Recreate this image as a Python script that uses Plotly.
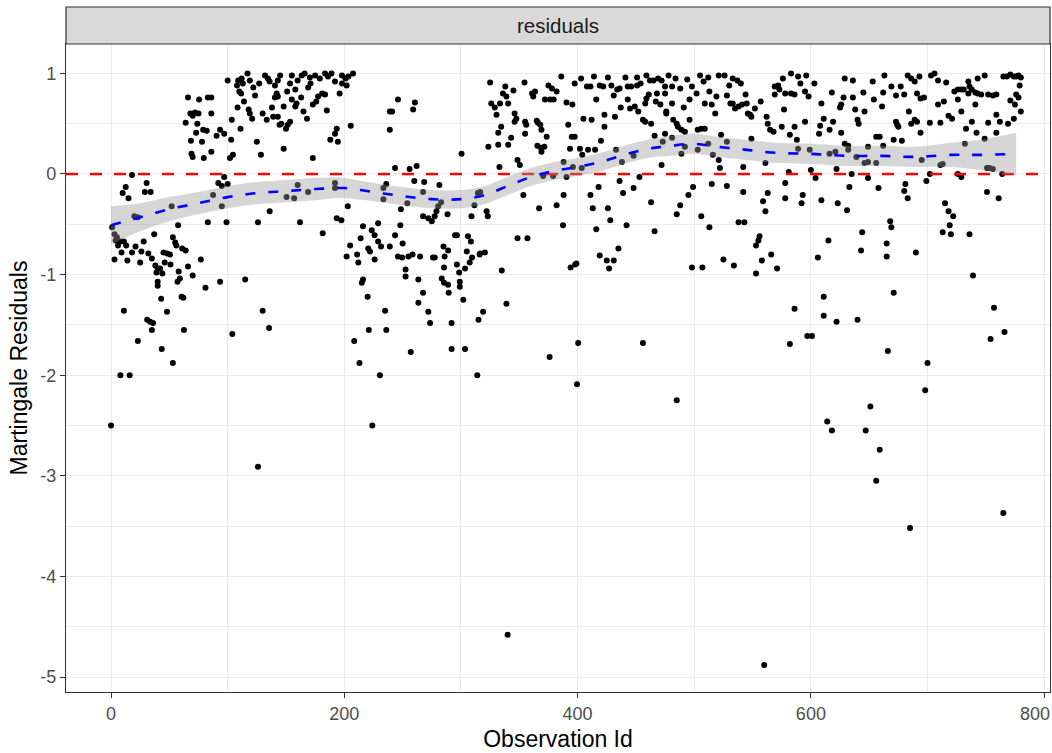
import plotly.graph_objects as go

# ---------------- data ----------------
# (observation id, martingale residual) pairs, grouped by region of the plot
obs_0_100 = [
    (0, -2.5), (1, -0.53), (3, -0.6), (4, -0.66), (6, -0.71), (3, -0.85), (8, -0.67), (11, -0.67), (13, -0.71),
    (10, -0.19), (12.6, -0.13), (15, -0.24), (18, -0.01), (20, -0.42), (23, -0.43), (18, -0.78), (26, -0.77),
    (28, -0.67), (32, -0.79), (30.5, -0.09), (29, -0.18), (34, -0.18), (37, -0.6), (45, -0.78), (48, -0.79),
    (50.5, -0.8), (52, -0.32), (53, -0.63), (55, -0.68), (56, -0.71), (57.5, -0.51), (61, -0.74), (64, -0.76),
    (77, -0.85), (25, -0.88), (38, -0.91), (40, -0.94), (39, -0.98), (42, -0.94), (46, -0.88), (40, -1.07),
    (40, -1.11), (59, -1.04), (57, -1.07), (43, -1.24), (60.5, -1.22), (62, -1.23), (81, -1.13), (93.5, -1.07),
    (11, -1.36), (48, -1.37), (31, -1.45), (33.5, -1.47), (36, -1.48), (35, -1.55), (62.5, -1.55), (23, -1.66),
    (43.5, -1.74), (53, -1.88), (8, -2.0), (16, -2.0), (5, -0.63), (9, -0.78), (14, -0.86), (21, -0.72),
    (35, -0.84), (44, -0.99), (51, -0.9), (58, -0.97), (66, -0.92), (70, -1.01),
    (66, 0.76), (75.5, 0.74), (83, 0.76), (86, 0.76), (68, 0.6), (70, 0.58), (72, 0.61), (75, 0.6), (86, 0.6),
    (64, 0.51), (74, 0.5), (73, 0.41), (79, 0.44), (82, 0.43), (68.5, 0.33), (78, 0.32), (90.5, 0.38),
    (93.5, 0.44), (97, 0.4), (86, 0.22), (69, 0.2), (70, 0.17), (79.5, 0.16), (97, -0.03), (92, -0.09),
    (95, -0.12), (100, -0.1), (87.5, -0.21), (95, -0.32), (83, -0.48), (99, -0.48), (100, 0.93),
]
obs_100_200 = [
    (103, 0.34), (102, 0.16), (104.5, 0.19), (104, -1.59), (115, -1.05), (130, -1.36), (135.5, -1.53), (126, -2.91),
    (126, -0.48), (108, 0.88), (109, 0.93), (113, 0.9), (112, 0.95), (117, 1.0), (119, 0.93), (111.5, 0.8),
    (110, 0.82), (122, 0.86), (123.5, 0.78), (108.5, 0.66), (103.5, 0.54), (111, 0.45), (118, 0.64), (119, 0.6),
    (121, 0.55), (125, 0.32), (128.5, 0.19), (130, 0.6), (133.5, 0.54), (132, 0.98), (134.5, 0.95), (136, 0.92),
    (140.5, 0.88), (143, 0.93), (145, 0.98), (142, 0.8), (143, 0.77), (140.5, 0.76), (139, 0.57), (143, 0.57),
    (146, 0.5), (144.5, 0.49), (148, 0.67), (148, 0.25), (150, 0.45), (151.5, 0.49), (153.5, 0.9), (155, 0.98),
    (158, 0.84), (160, 0.93), (163.5, 0.98), (166, 1.0), (170.5, 0.96), (169, 0.86), (155, 0.74), (159, 0.7),
    (158, 0.67), (165, 0.62), (153.5, 0.52), (173, 0.69), (176, 0.72), (177.5, 0.77), (181, 0.8), (183.5, 0.79),
    (175, 0.98), (179, 0.95), (183.5, 1.0), (186, 0.97), (189, 1.0), (192, 0.92), (188, 0.34), (192, 0.4),
    (173, 0.16), (192, -0.09), (192, -0.14), (193.5, -0.44), (197.5, -0.46), (181.5, -0.59), (162, -0.48),
    (160, -0.11), (169, -0.18), (150.5, -0.23), (157, -0.24), (136, -0.37), (193.5, 0.45), (196, 0.8), (198, 0.9),
    (114, 0.72), (127, 0.9), (138, 0.66), (151, 0.82), (163, 0.76), (171, 0.9), (185, 0.63), (168, 0.55),
]
obs_200_300 = [
    (198, 0.98), (201, 0.95), (203.5, 0.97), (207.5, 1.0), (202, 0.88), (205.5, 0.48), (194.5, 0.32), (203, -0.32),
    (216, -0.52), (223.5, -0.56), (229, -0.49), (226, -0.61), (205, -0.71), (214, -0.64), (220.5, -0.74),
    (229, -0.67), (231.5, -0.72), (239, -0.72), (243.5, -0.61), (248, -0.51), (250, -0.69), (239, 0.62),
    (241, 0.62), (246, 0.74), (239, 0.44), (260.5, 0.71), (259, 0.64), (243.5, 0.06), (256, 0.05), (262, 0.08),
    (260, -0.07), (268.5, -0.08), (281.5, -0.11), (236, -0.1), (233.5, -0.14), (233.5, -0.25), (254, -0.29),
    (267.5, -0.18), (248.5, -0.35), (267.5, -0.42), (272, -0.44), (275, -0.47), (277.5, -0.42), (279, -0.37),
    (280.5, -0.32), (283, -0.28), (288.5, -0.4), (300.5, 0.2), (285, -0.72), (289, -0.76), (295, -0.61),
    (296.5, -0.61), (286, -0.82),
    (202, -0.82), (211, -0.8), (212, -0.88), (222, -0.77), (226, -0.85), (216, -1.05), (215, -1.08), (220, -1.22),
    (235, -1.36), (221, -1.55), (236, -1.55), (208.5, -1.66), (213, -1.88), (230.5, -2.0), (224, -2.5),
    (246, -0.82), (249.5, -0.83), (255, -0.82), (258.5, -0.8), (265, -0.82), (276, -0.83), (277.5, -0.83),
    (252.5, -0.95), (252.5, -1.02), (263.5, -1.05), (267.5, -1.18), (263.5, -1.28), (272, -1.37), (273.5, -1.48),
    (257, -1.77), (285.5, -0.93), (283.5, -1.04), (285.5, -1.08), (289, -1.1), (289.5, -1.18), (292, -1.48),
    (292, -1.74), (296.5, -0.9), (298.5, -0.98), (299, -1.07), (299, -1.12),
]
obs_300_400 = [
    (306, -0.62), (308.5, -0.67), (316.5, -0.79), (309, -0.42), (311.5, -0.31), (314.5, -0.19), (316.5, -0.18),
    (322, -0.37), (323, -0.42), (323.5, 0.27), (325, 0.91), (332, 0.29), (333, 0.07), (326, 0.7), (329, 0.66),
    (330.5, 0.59), (333.5, 0.7), (336, 0.8), (339, 0.77), (340.5, 0.7), (345, 0.83), (338, 0.87), (346, 0.6),
    (347.5, 0.55), (346, 0.52), (355, 0.52), (356, 0.49), (355, 0.4), (343, 0.36), (340.5, 0.29), (332, 0.41),
    (334.5, 0.47), (348.5, 0.14), (350.5, 0.09), (353.5, -0.21), (348.5, -0.64), (357, -0.64), (354.5, 0.91),
    (361, 0.8), (362, 0.77), (363.5, 0.82), (365, 0.53), (366, 0.51), (368, 0.49), (369, 0.44), (365.5, 0.28),
    (368.5, 0.26), (371.5, 0.27), (369, 0.22), (373.5, 0.37), (376.5, 0.74), (372, 0.74), (375, 0.88),
    (378, 0.85), (379.5, 0.74), (382, 0.82), (386, 0.97), (390.5, 0.71), (395.5, 0.69), (397.5, 0.9),
    (392, 0.49), (395, 0.37), (397.5, 0.37), (393.5, 0.25), (388, 0.12), (370.5, -0.02), (379, -0.02),
    (390.5, -0.03), (396, 0.07), (367, -0.34), (382, -0.31), (388, -0.21), (387.5, -0.51),
    (302, -1.25), (303.5, -0.94), (307.5, -0.88), (309.5, -0.83), (316, -0.8), (320.5, -0.78), (305, -0.77),
    (303.5, -1.74), (315, -1.45), (319, -1.37), (314, -2.0), (335, -0.96), (339, -1.29), (376, -1.82),
    (394, -0.93), (398, -0.9), (340, -4.58),
]
obs_400_500 = [
    (402, 0.25), (404, 0.19), (405, 0.55), (403, 0.95), (403.5, 0.06), (400.5, -1.68), (399.5, -2.09),
    (426, 0.96), (441, 0.96), (451, 0.96), (459, 0.98), (469, 0.95), (478, 0.98),
    (408, 0.87), (411, 0.87), (419, 0.88), (422, 0.87), (429, 0.88), (434, 0.84), (436, 0.85), (443, 0.87),
    (446, 0.87), (451, 0.88), (454, 0.9), (462, 0.93), (465, 0.93), (468, 0.8), (472, 0.93), (475, 0.87),
    (481, 0.87), (488, 0.85), (498, 0.87), (416, 0.74), (443, 0.74), (445, 0.65), (449, 0.67), (459, 0.75),
    (461, 0.79), (458, 0.7), (471, 0.69), (475, 0.8), (476, 0.62), (481, 0.7), (496, 0.74),
    (412, 0.54), (423, 0.59), (432, 0.57), (423, 0.47), (456, 0.54), (458, 0.52), (463, 0.5), (476, 0.6),
    (482, 0.54), (485, 0.5), (486, 0.47), (489, 0.44), (492, 0.42), (496, 0.54),
    (420, 0.33), (409, 0.24), (415, 0.24), (433, 0.24), (438, 0.12), (448, 0.18), (466, 0.38), (475, 0.4),
    (473, 0.32), (481, 0.36), (489, 0.2), (492, 0.27), (472, 0.09), (436, -0.07), (453, -0.03), (418, -0.13),
    (411, -0.21), (413, -0.34), (426, -0.34), (428, -0.46), (416, -0.55), (442, -0.51), (439, -0.19),
    (448, -0.14), (463, -0.28), (466, -0.57), (485, -0.4), (488, -0.31), (495, -0.21), (499, -0.13),
    (435, -0.74), (399, -0.89), (419, -0.81), (425, -0.86), (431, -0.86), (427, -0.94), (498, -0.93),
    (456, -1.68), (485, -2.25), (414, 0.97), (431, 0.78), (437, 0.66), (452, 0.62), (467, 0.72), (484, 0.95),
    (491, 0.66), (494, 0.94),
]
obs_500_600 = [
    (505, 0.98), (521, 0.98), (526, 0.98), (533, 0.95), (537, 0.93), (576, 0.95), (583, 1.0), (589, 0.97),
    (596, 0.98), (502, 0.8), (508, 0.92), (513, 0.82), (569, 0.87), (572, 0.88), (573, 0.84), (595, 0.82),
    (509, 0.7), (515, 0.69), (519, 0.77), (528, 0.78), (531, 0.7), (533, 0.7), (535, 0.65), (538, 0.67),
    (541, 0.69), (545, 0.7), (552, 0.65), (569, 0.79), (578, 0.8), (583, 0.8), (586, 0.79), (598, 0.77),
    (577, 0.64), (503, 0.44), (506, 0.45), (509, 0.45), (546, 0.6), (548, 0.59), (549, 0.57), (562, 0.57),
    (563, 0.5), (565, 0.44), (568, 0.42), (575, 0.47), (586, 0.47), (595, 0.52),
    (503, 0.24), (512, 0.3), (523, 0.39), (528, 0.32), (516, 0.19), (521, 0.14), (522, 0.06), (542, 0.07),
    (549, 0.35), (561, 0.11), (582, 0.39), (588, 0.34), (589, 0.25), (599, 0.24),
    (506, -0.42), (515, -0.1), (528, -0.12), (513, -0.53), (538, -0.48), (543, -0.48), (542, -0.18),
    (563, -0.19), (559, -0.27), (561, -0.37), (578, -0.24), (578, -0.09), (581, 0.02), (593, -0.21),
    (592, -0.29), (553, -0.71), (555, -0.66), (556, -0.62),
    (507, -0.93), (525, -0.85), (534, -0.91), (553, -0.99), (558, -0.86), (566, -0.8), (571, -0.94),
    (586, -1.34), (582, -1.69), (597, -1.61), (560, -4.88), (512, 0.96), (530, 0.88), (540, 0.9),
    (544, 0.79), (557, 0.72), (591, 0.9), (518, 0.6),
]
obs_600_700 = [
    (603, 0.9), (609, 0.7), (600, 0.04), (604, -0.04), (609, -0.26), (606, -0.83), (611, -1.22), (611, -1.41),
    (601, -1.61), (629, 0.95), (636, 0.93), (653, 0.92), (663, 0.98), (669, 0.87), (677, 0.87), (683, 0.98),
    (686, 0.95), (689, 0.92), (693, 0.97), (618, 0.81), (628, 0.76), (636, 0.76), (645, 0.81), (654, 0.74),
    (662, 0.81), (673, 0.78), (680, 0.79), (691, 0.8), (694, 0.75), (697, 0.76), (625, 0.66), (626, 0.69),
    (638, 0.64), (646, 0.62), (661, 0.67), (640, 0.54), (641, 0.5), (611, 0.55), (608, 0.48), (619, 0.52),
    (616, 0.44), (607, 0.4), (626, 0.41), (673, 0.52), (674, 0.49), (675, 0.47), (684, 0.62), (686, 0.5),
    (689, 0.54), (691, 0.52), (694, 0.41), (656, 0.37), (659, 0.37), (671, 0.34), (678, 0.33), (662, 0.28),
    (629, 0.3), (632, 0.28), (632, 0.24), (616, 0.2), (621, 0.22), (639, 0.17), (649, 0.27), (646, 0.11),
    (649, 0.12), (656, 0.11), (695, 0.14), (622, 0.05), (635, 0.0), (649, -0.04), (699, -0.07), (633, -0.13),
    (658, -0.14), (681, -0.1), (680, -0.17), (683, -0.24), (623, -0.29), (631, -0.36), (668, -0.47),
    (669, -0.53), (644, -0.58), (615, -0.66), (665, -0.69), (643, -0.76), (665, -0.82), (690, -0.78),
    (671, -1.18), (622, -1.47), (640, -1.45), (666, -1.76), (651, -2.31), (614, -2.46), (618, -2.55),
    (647, -2.55), (659, -2.74), (656, -3.05), (685, -3.52),
]
obs_700_780 = [
    (703, 0.98), (706, 1.0), (709, 0.93), (716, 0.91), (723, 0.82), (726, 0.84), (729, 0.84), (731, 0.84),
    (735, 0.92), (736, 0.87), (743, 0.95), (749, 0.98), (765, 0.97), (768, 0.97), (771, 0.99), (774, 0.97),
    (776, 0.97), (726, 0.74), (735, 0.8), (738, 0.84), (741, 0.81), (743, 0.8), (746, 0.79), (752, 0.79),
    (756, 0.78), (759, 0.79), (776, 0.79), (771, 0.73), (702, 0.51), (709, 0.69), (711, 0.51), (714, 0.72),
    (718, 0.58), (721, 0.55), (729, 0.62), (733, 0.45), (738, 0.52), (741, 0.69), (742, 0.41), (752, 0.51),
    (759, 0.41), (759, 0.59), (762, 0.52), (769, 0.5), (774, 0.55), (775, 0.69), (711, 0.09), (713, 0.1),
    (732, 0.3), (749, 0.35), (751, 0.06), (753, 0.06), (756, 0.05), (764, 0.0), (702, 0.0), (726, 0.0),
    (729, -0.03), (751, -0.18), (761, -0.24), (715, -0.29), (718, -0.37), (722, -0.42), (719, -0.51),
    (720, -0.6), (713, -0.58), (736, -0.6), (739, -1.01), (757, -1.33), (766, -1.57), (754, -1.64),
    (700, -1.88), (698, -2.15), (765, -3.37), (778, 0.98), (780, 0.96), (779, 0.88), (778, 0.76), (780, 0.62),
]

# loess smooth: x, fitted value, half width of the 95% band
smooth_x = [0, 25, 50, 75, 100, 125, 150, 175, 200, 225, 250, 275, 300, 320, 340, 360, 380, 400, 420,
            440, 460, 480, 500, 520, 545, 570, 600, 630, 660, 690, 720, 745, 776]
smooth_y = [-0.51, -0.43, -0.35, -0.29, -0.23, -0.19, -0.17, -0.15, -0.14, -0.18, -0.22, -0.25, -0.25,
            -0.21, -0.12, -0.03, 0.03, 0.07, 0.12, 0.19, 0.25, 0.28, 0.30, 0.27, 0.24, 0.21, 0.20, 0.18,
            0.18, 0.17, 0.19, 0.19, 0.20]
smooth_hw = [0.19, 0.14, 0.12, 0.11, 0.11, 0.11, 0.11, 0.11, 0.10, 0.09, 0.09, 0.09, 0.09, 0.09, 0.09,
             0.09, 0.09, 0.09, 0.09, 0.09, 0.09, 0.10, 0.10, 0.10, 0.10, 0.10, 0.10, 0.10, 0.10, 0.10,
             0.12, 0.15, 0.21]

x_ticks = [0, 200, 400, 600, 800]
y_ticks = [-5, -4, -3, -2, -1, 0, 1]
x_range = [-38.6, 805]
y_range = [-5.149, 1.292]
hline_y = 0
strip_label = "residuals"
x_title = "Observation Id"
y_title = "Martingale Residuals"

# ---------------- figure ----------------
all_pts = obs_0_100 + obs_100_200 + obs_200_300 + obs_300_400 + obs_400_500 + obs_500_600 + obs_600_700 + obs_700_780
px_ = [p[0] for p in all_pts]
py_ = [p[1] for p in all_pts]

fig = go.Figure()
fig.add_trace(go.Scatter(x=px_, y=py_, mode="markers",
                         marker=dict(color="black", size=6, line=dict(width=0)), hoverinfo="skip"))
fig.add_trace(go.Scatter(x=x_range, y=[hline_y, hline_y], mode="lines",
                         line=dict(color="#FF0000", width=2.6, dash="12px,12px")))
lower = [y - h for y, h in zip(smooth_y, smooth_hw)]
upper = [y + h for y, h in zip(smooth_y, smooth_hw)]
fig.add_trace(go.Scatter(x=smooth_x, y=lower, mode="lines", line=dict(width=0, shape="spline"),
                         hoverinfo="skip"))
fig.add_trace(go.Scatter(x=smooth_x, y=upper, mode="lines", line=dict(width=0, shape="spline"),
                         fill="tonexty", fillcolor="rgba(153,153,153,0.4)", hoverinfo="skip"))
fig.add_trace(go.Scatter(x=smooth_x, y=smooth_y, mode="lines",
                         line=dict(color="#0000FF", width=2.6, dash="10px,13px", shape="spline")))

tick_font = dict(size=18, color="#4D4D4D")
axis_common = dict(showgrid=True, gridcolor="#EBEBEB", gridwidth=1.1, zeroline=False,
                   showline=True, mirror=True, linecolor="#333333", linewidth=1.2,
                   ticks="outside", ticklen=5, tickwidth=1.1, tickcolor="#333333",
                   tickfont=tick_font)

fig.update_xaxes(range=x_range, tickvals=x_ticks, ticktext=[str(v) for v in x_ticks],
                 minor=dict(tickvals=[100, 300, 500, 700], showgrid=True, gridcolor="#EBEBEB",
                            gridwidth=0.6, ticks=""),
                 title=dict(text=x_title, font=dict(size=23, color="black"), standoff=8),
                 **axis_common)
fig.update_yaxes(range=y_range, tickvals=y_ticks, ticktext=[str(v) for v in y_ticks],
                 minor=dict(tickvals=[-4.5, -3.5, -2.5, -1.5, -0.5, 0.5], showgrid=True,
                            gridcolor="#EBEBEB", gridwidth=0.6, ticks=""),
                 title=dict(text=y_title, font=dict(size=23, color="black"), standoff=6),
                 **axis_common)

# last x tick label sits at the right edge of the page; keep it fully visible
fig.add_annotation(text=str(x_ticks[-1]), x=1 + 1.5 / 984, xref="paper", xanchor="right",
                   y=0, yref="paper", yanchor="middle", yshift=-22, showarrow=False, font=tick_font)

strip_h = 37 / 648
fig.add_shape(type="rect", xref="paper", yref="paper", x0=0, x1=1, y0=1, y1=1 + strip_h,
              fillcolor="#D9D9D9", line=dict(color="#333333", width=1.2))
fig.add_annotation(text=strip_label, xref="paper", yref="paper", x=0.5, y=1 + strip_h / 2,
                   showarrow=False, font=dict(size=20.5, color="#1A1A1A"), xanchor="center", yanchor="middle")

fig.update_layout(width=1052, height=753, margin=dict(l=66, r=2, t=44, b=61, pad=0),
                  plot_bgcolor="white", paper_bgcolor="white", showlegend=False,
                  font=dict(family="Liberation Sans, Arial, sans-serif"))

fig.write_html("out.html")
